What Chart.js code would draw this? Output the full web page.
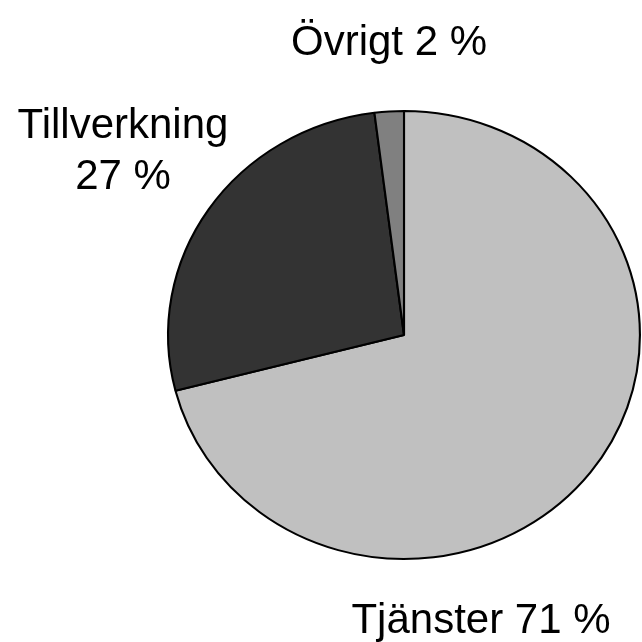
<!DOCTYPE html>
<html>
<head>
<meta charset="utf-8">
<script src="https://cdn.jsdelivr.net/npm/chart.js@4"></script>
<style>
    html, body { margin: 0; padding: 0; background: #ffffff; }
    #pie { display: block; }
</style>
</head>
<body>
<canvas id="pie" width="642" height="642"></canvas>
<script>
    // sector shares, percent
    const categories = ['Tjänster', 'Tillverkning', 'Övrigt'];
    const shares = [71, 27, 2];
    const sliceColors = ['#c0c0c0', '#333333', '#808080'];

    // label anchors (text centre x, baseline y) and line breaks
    const labelSpots = [
        { x: 481, y: 633, split: false },
        { x: 123, y: 138, split: true },
        { x: 389, y: 55, split: false }
    ];

    // the original pie is a little wider than tall
    const stretchX = 237 / 225;

    const widenPie = {
        id: 'widenPie',
        beforeDatasetsDraw: function (chart) {
            const ctx = chart.ctx;
            const area = chart.chartArea;
            const cx = (area.left + area.right) / 2;
            ctx.save();
            ctx.translate(cx, 0);
            ctx.scale(stretchX, 1);
            ctx.translate(-cx, 0);
        },
        afterDatasetsDraw: function (chart) {
            chart.ctx.restore();
        }
    };

    const outsideLabels = {
        id: 'outsideLabels',
        afterDraw: function (chart) {
            const ctx = chart.ctx;
            const data = chart.data;
            ctx.save();
            ctx.fillStyle = '#000000';
            ctx.font = '42px "Liberation Sans", Arial, sans-serif';
            ctx.textAlign = 'center';
            ctx.textBaseline = 'alphabetic';
            data.labels.forEach((label, i) => {
                const spot = labelSpots[i];
                const value = data.datasets[0].data[i] + ' %';
                if (spot.split) {
                    ctx.fillText(label, spot.x, spot.y);
                    ctx.fillText(value, spot.x, spot.y + 51);
                } else {
                    ctx.fillText(label + ' ' + value, spot.x, spot.y);
                }
            });
            ctx.restore();
        }
    };

    new Chart(document.getElementById('pie'), {
        type: 'pie',
        data: {
            labels: categories,
            datasets: [{
                data: shares,
                backgroundColor: sliceColors,
                borderColor: '#000000',
                borderWidth: 2
            }]
        },
        options: {
            responsive: false,
            animation: false,
            layout: {
                padding: { left: 179, right: 13, top: 110, bottom: 82 }
            },
            plugins: {
                legend: { display: false },
                tooltip: { enabled: false }
            }
        },
        plugins: [widenPie, outsideLabels]
    });
</script>
</body>
</html>
